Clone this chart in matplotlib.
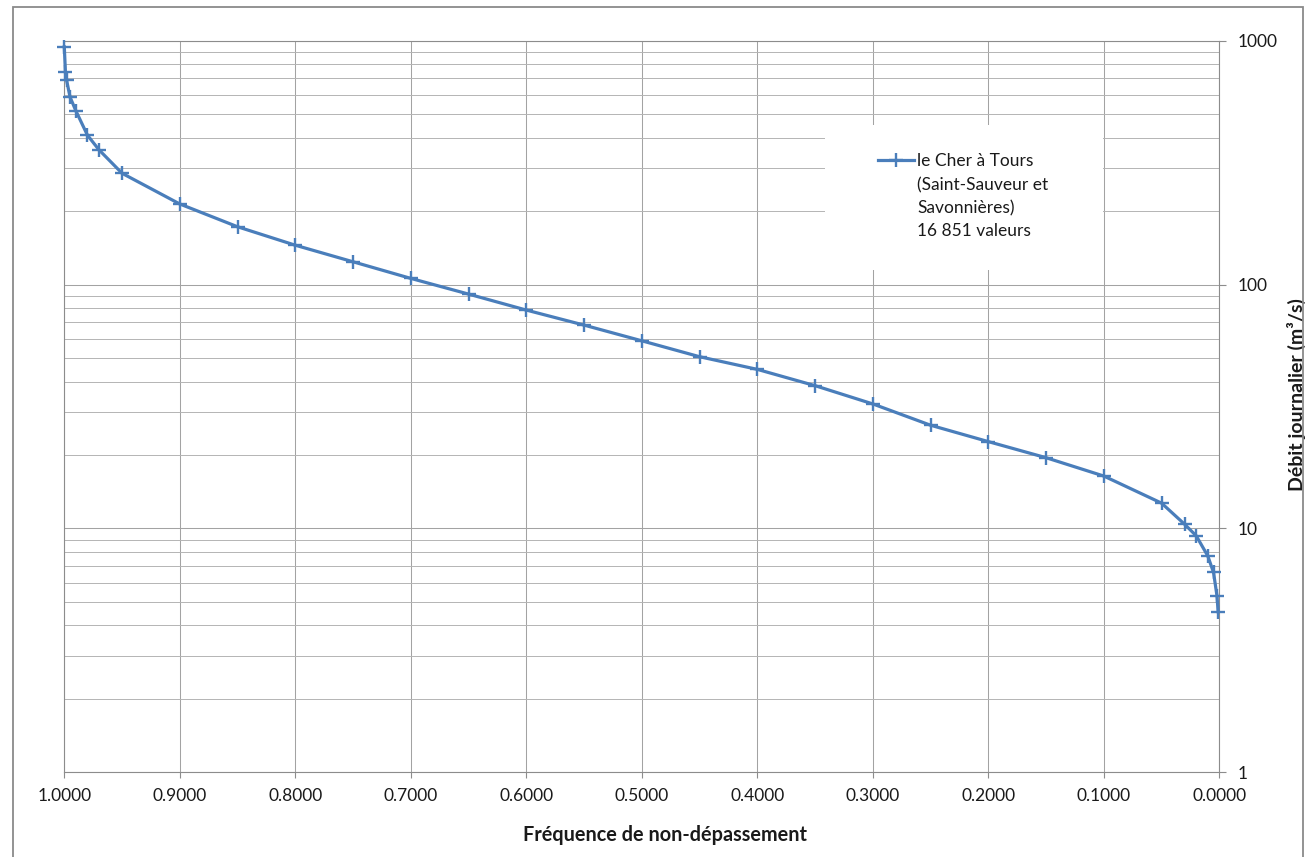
import matplotlib
matplotlib.use("Agg")
import matplotlib.pyplot as plt
from matplotlib.patches import Rectangle
from matplotlib.ticker import FixedLocator, LogLocator, FuncFormatter, NullFormatter

# ---- data ----
frequence = [1.0, 0.999, 0.998, 0.995, 0.99, 0.98, 0.97, 0.95, 0.90, 0.85, 0.80, 0.75,
             0.70, 0.65, 0.60, 0.55, 0.50, 0.45, 0.40, 0.35, 0.30, 0.25, 0.20, 0.15,
             0.10, 0.05, 0.03, 0.02, 0.01, 0.005, 0.002, 0.001]
debit = [943, 741, 688, 587, 516, 410, 357, 286, 214, 172.6, 145, 124,
         106, 91.4, 78.6, 68.2, 58.8, 50.6, 44.9, 38.5, 32.4, 26.5, 22.7, 19.5,
         16.4, 12.7, 10.4, 9.33, 7.72, 6.6, 5.29, 4.56]
x_ticks = [1.0, 0.9, 0.8, 0.7, 0.6, 0.5, 0.4, 0.3, 0.2, 0.1, 0.0]
y_ticks = [1, 10, 100, 1000]
legend_first = "le Cher à Tours"
legend_rest = "(Saint-Sauveur et\nSavonnières)\n16 851 valeurs"
xlabel = "Fréquence de non-dépassement"
ylabel = "Débit journalier (m³/s)"

FONT = ["Lato", "DejaVu Sans"]
plt.rcParams["font.family"] = FONT
FS = 12.5
GRID = "#a3a3a3"
AXC = "#8c8c8c"
BLUE = "#4a7ebb"
TXT = "#1a1a1a"

W, H = 1306, 857
fig = plt.figure(figsize=(W / 100, H / 100), dpi=100)
L, R, T, B = 64.3, 1219.3, 40.7, 772.3
ax = fig.add_axes([L / W, 1 - B / H, (R - L) / W, (B - T) / H])

line, = ax.plot(frequence, debit, color=BLUE, lw=2.3, marker="+", ms=10.5, mew=1.7,
                zorder=4, clip_on=False)

ax.set_yscale("log")
ax.set_ylim(1, 1000)
ax.set_xlim(1.0, 0.0)

ax.xaxis.set_major_locator(FixedLocator(x_ticks))
ax.xaxis.set_major_formatter(FuncFormatter(lambda v, p: f"{v:.4f}"))
ax.yaxis.set_major_locator(FixedLocator(y_ticks))
ax.yaxis.set_major_formatter(FuncFormatter(lambda v, p: f"{v:g}"))
ax.yaxis.set_minor_locator(LogLocator(base=10, subs=range(2, 10)))
ax.yaxis.set_minor_formatter(NullFormatter())

ax.yaxis.tick_right()
ax.yaxis.set_label_position("right")
ax.tick_params(axis="x", which="major", length=4, width=0.8, color=AXC, pad=7,
               labelsize=FS, labelcolor=TXT)
ax.tick_params(axis="y", which="major", length=5, width=0.8, color=AXC, pad=8,
               labelsize=FS, labelcolor=TXT, left=False, right=True)
ax.tick_params(axis="y", which="minor", length=0, left=False, right=False)
for lab in ax.get_yticklabels():
    lab.set_horizontalalignment("left")

ax.grid(True, which="major", axis="both", color=GRID, lw=0.75)
ax.grid(True, which="minor", axis="y", color="#b4b4b4", lw=0.7)
ax.set_axisbelow(True)
for s in ax.spines.values():
    s.set_color(AXC)
    s.set_linewidth(0.8)

def fx(px):
    return (px - L) / (R - L)

def fy(py):
    return (B - py) / (B - T)

ax.set_xlabel(xlabel, fontsize=14.3, fontweight="bold", color=TXT)
ax.xaxis.set_label_coords(fx(665), fy(825))
ax.set_ylabel(ylabel, fontsize=14, fontweight="bold", color=TXT)
ax.yaxis.set_label_coords(fx(1287), fy(395))

# legend area (white box hiding gridlines)
ax.add_patch(Rectangle((fx(825), fy(270)), fx(1103) - fx(825), fy(125) - fy(270),
                       transform=ax.transAxes, facecolor="white", edgecolor="none", zorder=2))
leg = ax.legend([line], [legend_first], loc="center left",
                bbox_to_anchor=(fx(878), fy(160.7)), frameon=False, fontsize=FS,
                handlelength=2.05, handletextpad=0.2, borderpad=0, borderaxespad=0)
leg.set_zorder(5)
for t in leg.get_texts():
    t.set_color(TXT)
ax.text(fx(917), fy(208), legend_rest, transform=ax.transAxes, fontsize=FS,
        va="center", ha="left", linespacing=1.5, color=TXT, zorder=5)

# outer frame
fig.patches.append(Rectangle((13 / W, -0.01), (1303 - 13) / W, 1 - 7 / H + 0.01,
                             transform=fig.transFigure, fill=False,
                             edgecolor="#8a8a8a", lw=1.3))

fig.savefig("out.png", dpi=100)
